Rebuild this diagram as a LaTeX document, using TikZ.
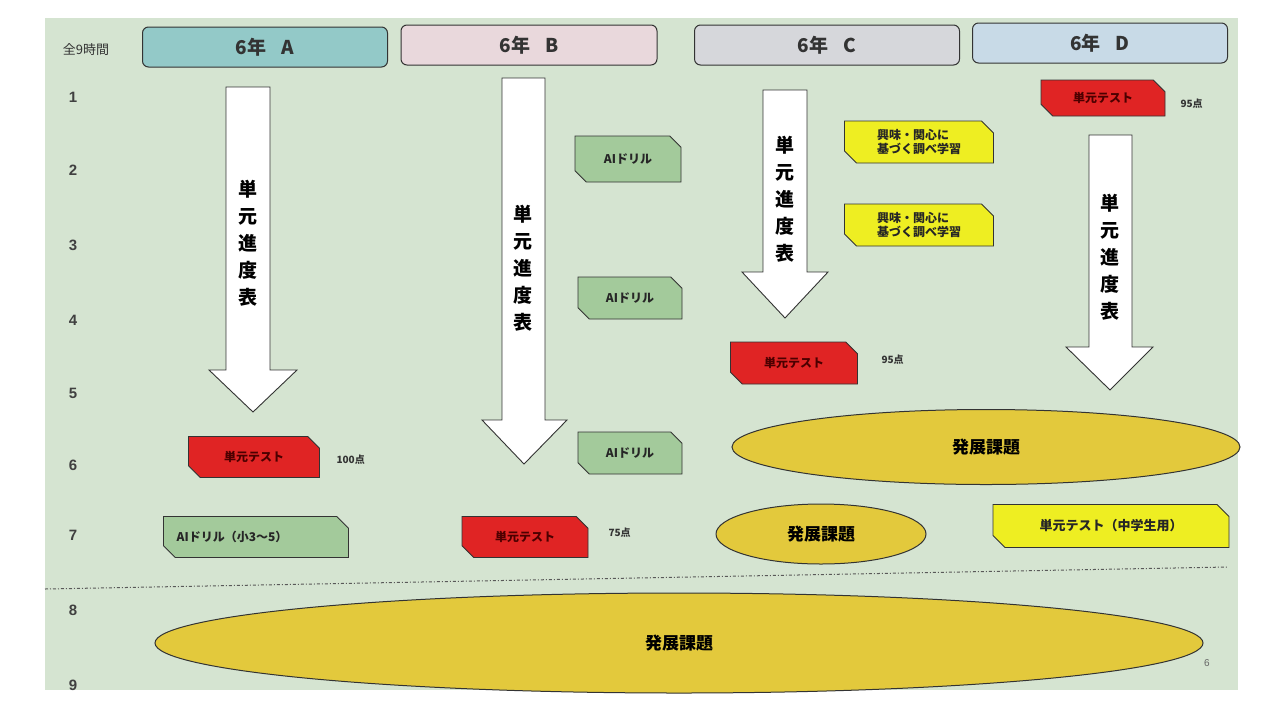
\documentclass[tikz,border=0pt]{standalone}
\usepackage{fontspec}
\setmainfont{Liberation Sans}
\newfontfamily\jp{Noto Sans CJK JP}
\usetikzlibrary{shapes.misc,shapes.geometric}
\definecolor{panelc}{HTML}{D5E4D1}
\definecolor{hdrA}{HTML}{93C9C8}
\definecolor{hdrB}{HTML}{E9D8DC}
\definecolor{hdrC}{HTML}{D6D7DB}
\definecolor{hdrD}{HTML}{C8DAE7}
\definecolor{greenbox}{HTML}{A3CA9B}
\definecolor{redbox}{HTML}{E02424}
\definecolor{yelbox}{HTML}{EEEE22}
\definecolor{ellc}{HTML}{E3C93C}
\definecolor{outl}{HTML}{333333}
\begin{document}
\begin{tikzpicture}[x=1pt,y=-1pt,
  hdr/.style={draw=outl,line width=1pt,rounded corners=6pt,minimum height=40pt,inner sep=0pt,font=\jp\bfseries\fontsize{19}{19}\selectfont,text=black!80},
  snip/.style={chamfered rectangle,chamfered rectangle corners={north east,south west},chamfered rectangle xsep=6pt,chamfered rectangle ysep=6pt,draw=outl,line width=0.9pt,inner sep=0pt,font=\jp\bfseries\fontsize{12}{14}\selectfont},
  redb/.style={snip,fill=redbox,text=black!70!red,minimum width=128pt,minimum height=41pt},
  greenb/.style={snip,fill=greenbox,text=black!85,minimum height=43pt},
  yelb/.style={snip,fill=yelbox,text=black!85,align=left},
  score/.style={font=\jp\bfseries\fontsize{10}{10}\selectfont,text=black!80},
  ell/.style={ellipse,draw=outl,line width=1pt,fill=ellc,inner sep=0pt,font=\jp\bfseries\fontsize{17}{17}\selectfont},
  rownum/.style={font=\bfseries\fontsize{15}{15}\selectfont,text=black!75},
  arr/.style={draw=outl,fill=white,line width=0.9pt,line join=miter},
  vtext/.style={align=center,font=\jp\bfseries\fontsize{19}{27}\selectfont,inner sep=0pt}
]
\useasboundingbox (0,0) rectangle (1273,702);
\fill[white] (0,0) rectangle (1273,702);
\fill[panelc] (45,18) rectangle (1238,690);

% headers
\node[hdr,fill=hdrA,minimum width=245pt] (hA) at (265,47) {6年\hspace{0.8em}A};
\node[hdr,fill=hdrB,minimum width=256pt] (hB) at (529,45) {6年\hspace{0.8em}B};
\node[hdr,fill=hdrC,minimum width=265pt] (hC) at (827,45) {6年\hspace{0.8em}C};
\node[hdr,fill=hdrD,minimum width=255pt] (hD) at (1100,43) {6年\hspace{0.8em}D};

% left labels
\node[font=\jp\fontsize{13}{13}\selectfont,text=black!80] (tot) at (86,50) {全9時間};
\foreach \n/\yy in {1/97,2/170,3/245,4/320,5/393,6/465,7/535,8/610,9/685}
  \node[rownum] (r\n) at (73,\yy) {\n};

% arrows
\draw[arr] (226,87) -- (270,87) -- (270,370) -- (297,370) -- (253,412) -- (209,370) -- (226,370) -- cycle;
\node[vtext] (vA) at (248,243) {単\\元\\進\\度\\表};
\draw[arr] (502,78) -- (545,78) -- (545,420) -- (567,420) -- (524,464) -- (482,420) -- (502,420) -- cycle;
\node[vtext] (vB) at (523,268) {単\\元\\進\\度\\表};
\draw[arr] (763,90) -- (807,90) -- (807,272) -- (828,272) -- (785,318) -- (742,272) -- (763,272) -- cycle;
\node[vtext] (vC) at (785,199) {単\\元\\進\\度\\表};
\draw[arr] (1089,135) -- (1132,135) -- (1132,347) -- (1153,347) -- (1110,390) -- (1066,347) -- (1089,347) -- cycle;
\node[vtext] (vD) at (1110,257) {単\\元\\進\\度\\表};

% class A
\node[redb,minimum width=131pt] (tA) at (254,457) {単元テスト};
\node[score,anchor=west] (sA) at (333,460) {100点};
\node[greenb,minimum width=185pt,minimum height=41pt] (dA) at (256,537) {\hspace*{-4em}AIドリル（小3〜5）};

% class B
\node[greenb,minimum width=106pt,minimum height=46pt] (dB1) at (628,159) {AIドリル};
\node[greenb,minimum width=104pt,minimum height=42pt] (dB2) at (630,298) {AIドリル};
\node[greenb,minimum width=104pt,minimum height=42pt] (dB3) at (630,453) {AIドリル};
\node[redb,minimum width=126pt] (tB) at (525,537) {単元テスト};
\node[score,anchor=west] (sB) at (605,533) {75点};

% class C
\node[yelb,minimum width=149pt,minimum height=42pt] (yC1) at (919,142) {興味・関心に\\基づく調べ学習};
\node[yelb,minimum width=149pt,minimum height=42pt] (yC2) at (919,225) {興味・関心に\\基づく調べ学習};
\node[redb,minimum width=127pt,minimum height=42pt] (tC) at (794,363) {単元テスト};
\node[score,anchor=west] (sC) at (878,360) {95点};
\node[ell,minimum width=508pt,minimum height=75pt] (eC1) at (986,447) {発展課題};
\node[ell,minimum width=210pt,minimum height=60pt] (eC2) at (821,534) {発展課題};

% class D
\node[redb,minimum width=124pt,minimum height=36pt] (tD) at (1103,98) {単元テスト};
\node[score,anchor=west] (sD) at (1177,104) {95点};
\node[yelb,minimum width=236pt,minimum height=43pt,font=\jp\bfseries\fontsize{13}{14}\selectfont] (yD) at (1111,526) {単元テスト（中学生用）};

% divider
\coordinate (dl) at (45,589);
\coordinate (dr) at (1228,567);
\draw[black!65,line width=1pt,dash pattern=on 3pt off 2pt on 1pt off 2pt] (dl) -- (dr);

% bottom
\node[ell,minimum width=1048pt,minimum height=100pt] (eB) at (679,643) {発展課題};
\node[font=\fontsize{10}{10}\selectfont,text=black!60] (pg) at (1207,663) {6};
\end{tikzpicture}
\end{document}
